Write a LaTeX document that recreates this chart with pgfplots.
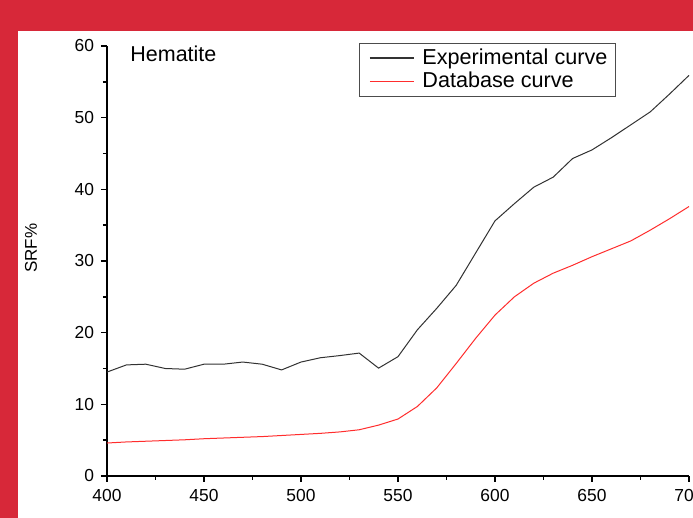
\documentclass[border=0pt]{standalone}
\usepackage{pgfplots}
\pgfplotsset{compat=1.18}
\usepackage{fontspec}
\setmainfont{Liberation Sans}
\definecolor{frame}{RGB}{215,40,57}
\definecolor{exper}{RGB}{50,50,50}
\definecolor{dbase}{RGB}{255,45,45}
\pgfplotstableread{
x y
400 14.5
410 15.5
420 15.6
430 15.0
440 14.9
450 15.6
460 15.6
470 15.9
480 15.6
490 14.8
500 15.9
510 16.5
520 16.8
530 17.15
540 15.05
550 16.65
560 20.4
570 23.4
580 26.6
590 31.1
600 35.6
610 38.0
620 40.3
630 41.7
640 44.3
650 45.5
660 47.2
670 49.0
680 50.8
690 53.3
700 55.9
}\expdata
\pgfplotstableread{
x y
400 4.6
410 4.75
420 4.85
430 4.95
440 5.05
450 5.2
460 5.3
470 5.4
480 5.5
490 5.65
500 5.8
510 5.95
520 6.15
530 6.45
540 7.1
550 7.95
560 9.7
570 12.3
580 15.7
590 19.2
600 22.45
610 25.0
620 26.9
630 28.3
640 29.4
650 30.6
660 31.7
670 32.8
680 34.3
690 35.9
700 37.6
}\dbdata
\begin{document}
\begin{tikzpicture}
\useasboundingbox (-53.5pt,-21pt) rectangle (293pt,238pt);
\fill[frame] (-53.5pt,-21pt) rectangle (293pt,238pt);
\fill[white] (-44.5pt,-21pt) rectangle (293pt,222.5pt);
\clip (-53.5pt,-21pt) rectangle (293pt,238pt);
\begin{axis}[
  at={(0pt,0pt)}, anchor=south west,
  scale only axis, width=291pt, height=215pt,
  xmin=400, xmax=700, ymin=0, ymax=60,
  axis x line*=bottom, axis y line*=left,
  axis line style={line width=1pt},
  xtick={400,450,...,700}, ytick={0,10,...,60},
  minor x tick num=1, minor y tick num=1,
  tick align=outside,
  major tick length=3pt, minor tick length=2pt,
  every tick/.style={line width=0.8pt, black},
  tick label style={font=\fontsize{8.7}{10}\selectfont},
  /pgf/number format/assume math mode=true,
  scaled ticks=false,
  ylabel={SRF\%},
  ylabel style={font=\fontsize{8.5}{10}\selectfont, at={(axis description cs:-0.1306,0.53)}, anchor=center},
  legend style={at={(rel axis cs:0.433,1.007)}, anchor=north west,
    draw=black!70, line width=0.5pt, font=\fontsize{10.8}{12}\selectfont,
    row sep=-1.5pt, inner xsep=2pt, inner ysep=0.6pt},
  legend cell align=left,
  legend image code/.code={\draw[#1, line width=0.6pt] (3pt,0pt) -- (25pt,0pt); \path (0pt,0pt) (27pt,0pt);},
  clip=false,
]
\addplot[exper, line width=0.5pt] table[x=x,y=y] {\expdata};
\addlegendentry{Experimental curve}
\addplot[dbase, line width=0.5pt] table[x=x,y=y] {\dbdata};
\addlegendentry{Database curve}
\node[anchor=base west, font=\fontsize{10.75}{12}\selectfont, inner sep=0pt] at (rel axis cs:0.0395,0.963) {Hematite};
\end{axis}
\end{tikzpicture}
\end{document}
